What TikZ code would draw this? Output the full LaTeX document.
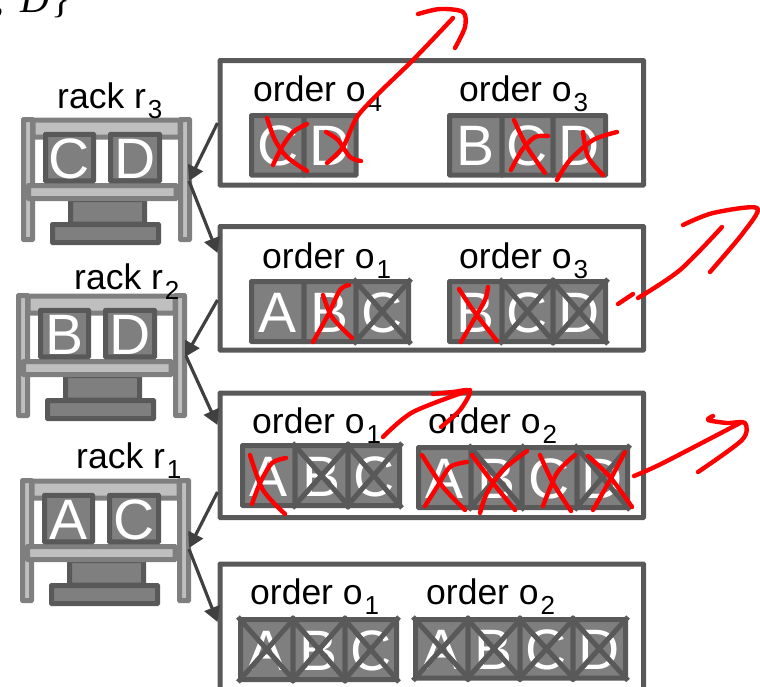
\documentclass[tikz,border=0pt]{standalone}
\usepackage{fontspec}
\setmainfont{Liberation Sans}
\newfontfamily\serifit[ItalicFont=Liberation Serif Italic]{Liberation Serif}
\usetikzlibrary{arrows.meta}
\definecolor{darkgr}{HTML}{595959}
\definecolor{midgr}{HTML}{7F7F7F}
\definecolor{lightgr}{HTML}{BFBFBF}
\definecolor{arrgr}{HTML}{404040}
\newcommand{\sublbl}[1]{\hspace{2pt}\raisebox{-10pt}{\fontsize{26}{26}\selectfont #1}}
\tikzset{
  orderbox/.style={draw=darkgr,line width=5pt,rounded corners=0.5pt,fill=white,inner sep=0pt},
  cellbox/.style={draw=darkgr,fill=midgr,line width=5pt,rounded corners=0.5pt,inner sep=0pt,text=white,
     font=\fontsize{57}{57}\selectfont,text height=41pt,text depth=0pt},
  xline/.style={draw=darkgr,line width=5pt},
  lbl/.style={anchor=base west,inner sep=0pt,text=black,font=\fontsize{35.5}{35.5}\selectfont},
  post/.style={draw=midgr,fill=lightgr,line width=5pt,rounded corners=0.5pt},
  shelf/.style={draw=midgr,fill=lightgr,line width=5pt,rounded corners=0.5pt},
  baseblk/.style={draw=darkgr,fill=midgr,line width=5pt,rounded corners=0.5pt},
  link/.style={draw=arrgr,line width=3.2pt,-{Triangle[length=15pt,width=16pt]}},
  redpen/.style={draw=red,line width=4.4pt,line cap=round,line join=round},
}
% \cellnode{name}{x1}{y1}{x2}{y2}{letter}
\newcommand{\cellnode}[6]{\node[cellbox,minimum width={#4pt-#2pt},minimum height={#5pt-#3pt}] (#1) at ({(#2+#4)/2},{(#3+#5)/2}) {#6};}
\newcommand{\crossit}[1]{\draw[xline] (#1.north west)--(#1.south east) (#1.north east)--(#1.south west);}
\newcommand{\orderb}[5]{\node[orderbox,minimum width={#4pt-#2pt},minimum height={#5pt-#3pt}] (#1) at ({(#2+#4)/2},{(#3+#5)/2}) {};}
% \rack{name}{dx}{dy}{L}{R}
\newcommand{\rack}[5]{
 \begin{scope}[shift={(#2,#3)}]
  \draw[baseblk] (70.5,199.5) rectangle (144.5,224);
  \draw[baseblk] (52.5,224.5) rectangle (158.5,242.5);
  \draw[post] (23.5,119.5) rectangle (32.5,239.5);
  \draw[post] (180.5,119.5) rectangle (189.5,239.5);
  \draw[shelf] (33,120) rectangle (180,137);
  \draw[shelf] (28.5,185.5) rectangle (176,198.5);
  \node[cellbox,minimum width=48pt,minimum height=46.5pt] (#1a) at (69.5,157.5) {#4};
  \node[cellbox,minimum width=49pt,minimum height=46.5pt] (#1b) at (135,157.5) {#5};
 \end{scope}}
\begin{document}
\begin{tikzpicture}[x=1pt,y=-1pt]
\useasboundingbox (0,0) rectangle (760,686);
\clip (0,0) rectangle (760,686);

\node[anchor=base west,inner sep=0pt,font=\serifit\fontsize{40}{40}\selectfont] (settail) at (-6,12) {,\hspace{16pt}\textit{D}\hspace{2pt}\}};

% order boxes
\orderb{b1}{220}{60.5}{643.5}{185}
\orderb{b2}{220}{226.5}{643.5}{350}
\orderb{b3}{220}{393}{643.5}{517.5}
\orderb{b4}{220}{564}{643.5}{720}

% racks
\rack{rthree}{0}{0}{C}{D}
\rack{rtwo}{-5}{176}{B}{D}
\rack{rone}{-1}{361}{A}{C}

% rack labels
\node[lbl] (lr3) at (57,108) {rack r\sublbl{3}};
\node[lbl] (lr2) at (74,289) {rack r\sublbl{2}};
\node[lbl] (lr1) at (76,468) {rack r\sublbl{1}};

% order labels
\node[lbl] (l14) at (253,101) {order o\sublbl{4}};
\node[lbl] (l13) at (459,101) {order o\sublbl{3}};
\node[lbl] (l21) at (262,268) {order o\sublbl{1}};
\node[lbl] (l23) at (459,268) {order o\sublbl{3}};
\node[lbl] (l31) at (252,433) {order o\sublbl{1}};
\node[lbl] (l32) at (428,433) {order o\sublbl{2}};
\node[lbl] (l41) at (250,604) {order o\sublbl{1}};
\node[lbl] (l42) at (426,604) {order o\sublbl{2}};

% cells box 1
\cellnode{a1}{251.5}{115.5}{304}{175}{C}
\cellnode{a2}{304}{115.5}{356}{175}{D}
\cellnode{a3}{449.5}{115.5}{502}{175}{B}
\cellnode{a4}{502}{115.5}{553}{175}{C}
\cellnode{a5}{553}{115.5}{605.5}{175}{D}
% cells box 2
\cellnode{c1}{251.5}{281.5}{304}{341.5}{A}
\cellnode{c2}{304}{281.5}{356}{341.5}{B}
\cellnode{c3}{356}{281.5}{408.5}{341.5}{C}
\cellnode{c4}{449.5}{281.5}{502}{341.5}{B}
\cellnode{c5}{502}{281.5}{553}{341.5}{C}
\cellnode{c6}{553}{281.5}{605.5}{341.5}{D}
\crossit{c3}\crossit{c5}\crossit{c6}
% cells box 3
\cellnode{d1}{242.5}{445.5}{295}{505.5}{A}
\cellnode{d2}{295}{445.5}{348}{505.5}{B}
\cellnode{d3}{348}{445.5}{399.5}{505.5}{C}
\cellnode{d4}{418.5}{447.5}{471}{507.5}{A}
\cellnode{d5}{471}{447.5}{522}{507.5}{B}
\cellnode{d6}{522}{447.5}{577}{507.5}{C}
\cellnode{d7}{577}{447.5}{627.5}{507.5}{D}
\crossit{d2}\crossit{d3}\crossit{d5}\crossit{d7}
% cells box 4
\cellnode{e1}{240.5}{619.5}{293}{679.5}{A}
\cellnode{e2}{293}{619.5}{345}{679.5}{B}
\cellnode{e3}{345}{619.5}{396.5}{679.5}{C}
\cellnode{e4}{415.5}{619.5}{468}{678}{A}
\cellnode{e5}{468}{619.5}{520}{678}{B}
\cellnode{e6}{520}{619.5}{573}{678}{C}
\cellnode{e7}{573}{619.5}{625.5}{678}{D}
\crossit{e1}\crossit{e2}\crossit{e3}\crossit{e4}\crossit{e5}\crossit{e6}\crossit{e7}

% connectors
\coordinate (p1) at (b1.west |- 0,123);
\coordinate (q1) at (189,181);
\coordinate (s1) at (189,181);
\coordinate (t1) at (b2.west |- 0,253);
\coordinate (p2) at (b2.west |- 0,300);
\coordinate (q2) at (185,357);
\coordinate (s2) at (186,356);
\coordinate (t2) at (b3.west |- 0,425);
\coordinate (p3) at (b3.west |- 0,492);
\coordinate (q3) at (189,548);
\coordinate (s3) at (189,549);
\coordinate (t3) at (b4.west |- 0,622);
\draw[link] (p1) -- (q1);
\draw[link] (s1) -- (t1);
\draw[link] (p2) -- (q2);
\draw[link] (s2) -- (t2);
\draw[link] (p3) -- (q3);
\draw[link] (s3) -- (t3);

% red annotations
\draw[redpen] plot[smooth] coordinates {(267,118)(275,140)(287,157)(307,171)};
\draw[redpen] plot[smooth] coordinates {(307,124)(293,132)(282,147)(273,165)};
\draw[redpen] plot[smooth] coordinates {(326,132)(338,140)(350,157)(361,161)};
\draw[redpen] plot[smooth] coordinates {(327,163)(343,147)(357,117)(380,92)(413,60)(453,18)};
\draw[redpen] plot[smooth] coordinates {(418,14)(440,9)(463,12)(465,27)(455,48)};
\draw[redpen] plot[smooth] coordinates {(514,120)(527,147)(545,173)};
\draw[redpen] plot[smooth] coordinates {(548,136)(535,137)(522,150)(511,170)};
\draw[redpen] plot[smooth] coordinates {(583,132)(588,157)(603,175)};
\draw[redpen] plot[smooth] coordinates {(617,132)(593,140)(570,160)(557,180)};
\draw[redpen] plot[smooth] coordinates {(323,295)(332,317)(352,338)};
\draw[redpen] plot[smooth] coordinates {(349,285)(340,290)(328,315)(313,342)};
\draw[redpen] plot[smooth] coordinates {(459,289)(473,310)(497,341)};
\draw[redpen] plot[smooth] coordinates {(488,287)(485,300)(472,323)(461,342)};
\draw[redpen] (618,304) -- (633,294);
\draw[redpen] plot[smooth] coordinates {(638,298)(680,270)(722,227)};
\draw[redpen] plot[smooth] coordinates {(683,225)(713,213)(757,208)(743,233)(710,272)};
\draw[redpen] plot[smooth] coordinates {(250,455)(263,490)(285,514)};
\draw[redpen] plot[smooth] coordinates {(286,458)(272,463)(260,483)(252,504)};
\draw[redpen] plot[smooth] coordinates {(383,437)(413,412)(470,390)};
\draw[redpen] plot[smooth] coordinates {(433,394)(453,392)(470,391)(460,410)(441,427)};
\draw[redpen] plot[smooth] coordinates {(422,455)(443,487)(465,510)};
\draw[redpen] plot[smooth] coordinates {(467,462)(450,467)(437,487)(425,506)};
\draw[redpen] plot[smooth] coordinates {(472,455)(493,483)(515,510)};
\draw[redpen] plot[smooth] coordinates {(527,451)(503,470)(487,493)(480,513)};
\draw[redpen] plot[smooth] coordinates {(540,455)(553,483)(571,511)};
\draw[redpen] plot[smooth] coordinates {(575,455)(557,473)(543,506)};
\draw[redpen] plot[smooth] coordinates {(588,456)(610,477)(632,507)};
\draw[redpen] plot[smooth] coordinates {(625,452)(610,480)(593,510)};
\draw[redpen] plot[smooth] coordinates {(634,476)(663,463)(740,423)};
\draw[redpen] plot[smooth] coordinates {(713,416)(708,420)(727,423)(745,423)(742,440)(698,472)};
\end{tikzpicture}
\end{document}
